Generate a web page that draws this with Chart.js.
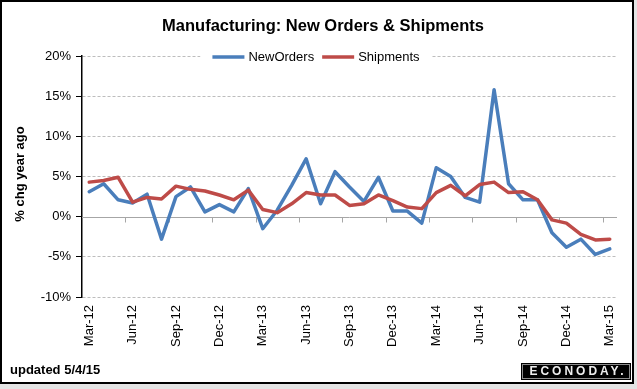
<!DOCTYPE html>
<html>
<head>
<meta charset="utf-8">
<script src="https://cdn.jsdelivr.net/npm/chart.js@4.4.1/dist/chart.umd.min.js"></script>
<style>
  html, body { margin: 0; padding: 0; background: #e4e4e4; }
  canvas { display: block; }
</style>
</head>
<body>
<canvas id="chart" width="637" height="389"></canvas>
<script>
const months = [
  "Mar-12", "Apr-12", "May-12", "Jun-12", "Jul-12", "Aug-12", "Sep-12", "Oct-12", "Nov-12", "Dec-12",
  "Jan-13", "Feb-13", "Mar-13", "Apr-13", "May-13", "Jun-13", "Jul-13", "Aug-13", "Sep-13", "Oct-13",
  "Nov-13", "Dec-13", "Jan-14", "Feb-14", "Mar-14", "Apr-14", "May-14", "Jun-14", "Jul-14", "Aug-14",
  "Sep-14", "Oct-14", "Nov-14", "Dec-14", "Jan-15", "Feb-15", "Mar-15",
];
const newOrders = [
  3.1, 4.1, 2.1, 1.7, 2.8, -2.8, 2.5, 3.7, 0.6, 1.5,
  0.6, 3.5, -1.5, 0.8, 3.9, 7.2, 1.6, 5.6, 3.7, 1.9,
  4.9, 0.7, 0.7, -0.8, 6.1, 5.0, 2.4, 1.8, 15.8, 4.1,
  2.1, 2.1, -2.0, -3.8, -2.8, -4.7, -4.0,
];
const shipments = [
  4.3, 4.5, 4.9, 1.8, 2.4, 2.2, 3.8, 3.4, 3.2, 2.7,
  2.1, 3.3, 0.9, 0.5, 1.6, 3.0, 2.7, 2.7, 1.4, 1.6,
  2.7, 2.0, 1.2, 1.0, 3.0, 3.9, 2.6, 4.0, 4.3, 3.0,
  3.1, 2.1, -0.4, -0.8, -2.2, -2.9, -2.8,
];
const yMin = -10;
const yMax = 20;
const yStep = 5;

const titleText = "Manufacturing: New Orders & Shipments";
const yTitle = "% chg year ago";
const footerText = "updated 5/4/15";
const FONT = '"Liberation Sans", Arial, sans-serif';

// frame, titles, legend, zero line and the logo are drawn around the library's chart
const decorPlugin = {
  id: "decor",
  beforeDraw(chart) {
    const { ctx, width, height } = chart;
    ctx.save();
    ctx.fillStyle = "#e4e4e4";
    ctx.fillRect(0, 0, width, height);
    ctx.fillStyle = "#fff";
    ctx.fillRect(1, 1, 632, 382);
    ctx.strokeStyle = "#000";
    ctx.lineWidth = 2;
    ctx.strokeRect(1, 1, 632, 382);
    ctx.restore();
  },
  beforeDatasetsDraw(chart) {
    const { ctx, chartArea, scales: { x, y } } = chart;
    const y0 = Math.round(y.getPixelForValue(0)) + 0.5;
    const half = (x.getPixelForValue(1) - x.getPixelForValue(0)) / 2;
    ctx.save();
    ctx.strokeStyle = "#a6a6a6";
    ctx.lineWidth = 1;
    ctx.beginPath();
    ctx.moveTo(chartArea.left, y0);
    ctx.lineTo(chartArea.right, y0);
    for (let i = 2; i < months.length - 1; i += 3) {
      const px = Math.round(x.getPixelForValue(i) + half) + 0.5;
      ctx.moveTo(px, y0);
      ctx.lineTo(px, y0 + 5);
    }
    ctx.stroke();
    ctx.restore();
  },
  afterDraw(chart) {
    const { ctx } = chart;
    ctx.save();

    ctx.fillStyle = "#000";
    ctx.textBaseline = "middle";
    ctx.textAlign = "center";
    ctx.font = `bold 16.5px ${FONT}`;
    ctx.fillText(titleText, 323, 26);

    ctx.save();
    ctx.translate(20, 174);
    ctx.rotate(-Math.PI / 2);
    ctx.font = `bold 13px ${FONT}`;
    ctx.fillText(yTitle, 0, 0);
    ctx.restore();

    // legend
    ctx.font = `13px ${FONT}`;
    ctx.textAlign = "left";
    const items = chart.data.datasets.map((ds) => ({
      label: ds.label, color: ds.borderColor, w: ctx.measureText(ds.label).width,
    }));
    const lineW = 32;
    const total = items.reduce((s, it) => s + lineW + 4 + it.w, 0) + 8 * (items.length - 1);
    let lx = 316 - total / 2;
    const ly = 57;
    ctx.fillStyle = "#fff";
    ctx.fillRect(lx - 12, ly - 8, total + 24, 16);
    items.forEach((it) => {
      ctx.strokeStyle = it.color;
      ctx.lineWidth = 3.5;
      ctx.beginPath();
      ctx.moveTo(lx, ly);
      ctx.lineTo(lx + lineW, ly);
      ctx.stroke();
      ctx.fillStyle = "#000";
      ctx.fillText(it.label, lx + lineW + 4, ly);
      lx += lineW + 4 + it.w + 8;
    });

    ctx.font = `bold 13px ${FONT}`;
    ctx.fillText(footerText, 10, 370);

    // logo
    ctx.fillStyle = "#000";
    ctx.fillRect(521, 363, 110, 17);
    ctx.strokeStyle = "#8c8c8c";
    ctx.lineWidth = 1;
    ctx.strokeRect(522.5, 364.5, 107, 14);
    ctx.fillStyle = "#eee";
    ctx.font = `bold 12px ${FONT}`;
    ctx.letterSpacing = "3px";
    ctx.textAlign = "center";
    ctx.fillText("ECONODAY.", 578, 372);
    ctx.restore();
  },
};

new Chart(document.getElementById("chart"), {
  type: "line",
  data: {
    labels: months,
    datasets: [
      {
        label: "NewOrders",
        data: newOrders,
        borderColor: "#4a7ebb",
        borderWidth: 3.5,
        pointRadius: 0,
        borderJoinStyle: "round",
        borderCapStyle: "round",
        order: 2,
      },
      {
        label: "Shipments",
        data: shipments,
        borderColor: "#be4b48",
        borderWidth: 3.5,
        pointRadius: 0,
        borderJoinStyle: "round",
        borderCapStyle: "round",
        order: 1,
      },
    ],
  },
  options: {
    responsive: false,
    animation: false,
    devicePixelRatio: 1,
    layout: { padding: { top: 56, right: 20, bottom: 0, left: 0 } },
    plugins: {
      legend: { display: false },
      title: { display: false },
      tooltip: { enabled: false },
    },
    scales: {
      x: {
        offset: true,
        grid: { display: false, drawTicks: false },
        border: { display: false },
        ticks: {
          autoSkip: false,
          minRotation: 90,
          maxRotation: 90,
          padding: 8,
          color: "#000",
          font: { family: FONT, size: 13 },
          callback: (value, index) => (index % 3 === 0 ? months[index] : ""),
        },
        afterFit: (scale) => { scale.height = 92; },
      },
      y: {
        min: yMin,
        max: yMax,
        ticks: {
          stepSize: yStep,
          padding: 5,
          color: "#000",
          font: { family: FONT, size: 13 },
          callback: (value) => `${value}%`,
        },
        grid: {
          color: (c) => (c.tick && c.tick.value === 0 ? "rgba(0,0,0,0)" : "#bdbdbd"),
          tickColor: "#000",
          tickLength: 6,
          lineWidth: 1,
        },
        border: { display: true, color: "#000", width: 1.5, dash: [3, 2] },
        afterFit: (scale) => { scale.width = 82; },
      },
    },
  },
  plugins: [decorPlugin],
});
</script>
</body>
</html>
